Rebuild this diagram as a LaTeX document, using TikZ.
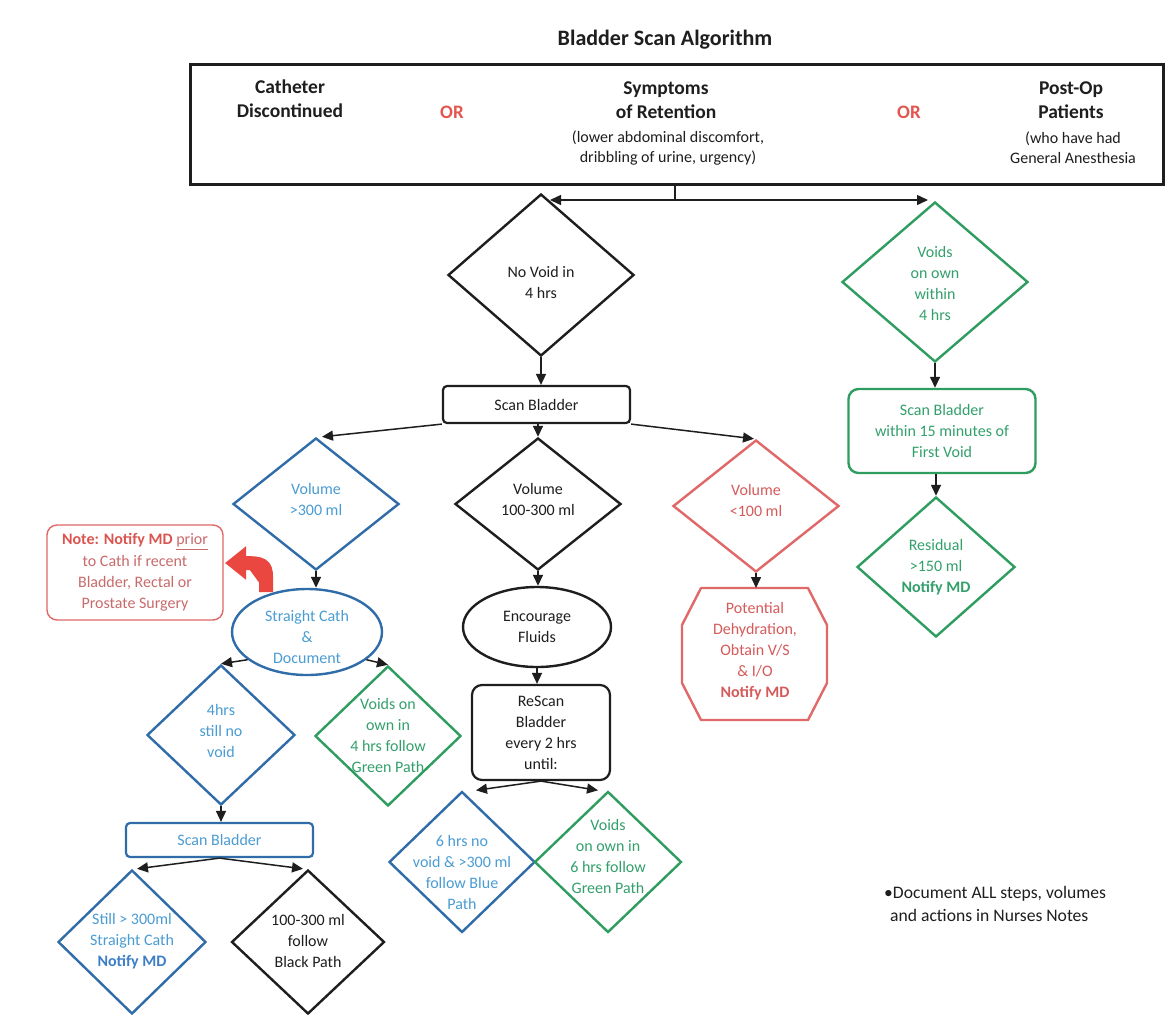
\documentclass[tikz,border=0pt]{standalone}
\usepackage{fontspec}
\setmainfont{Carlito}
\usetikzlibrary{shapes.geometric,arrows.meta,calc}
\definecolor{bstroke}{HTML}{2F6CA8}
\definecolor{btext}{HTML}{4A9CD3}
\definecolor{bbold}{HTML}{3C7FC6}
\definecolor{gstroke}{HTML}{2E9D5F}
\definecolor{gtext}{HTML}{33A06C}
\definecolor{rstroke}{HTML}{E06868}
\definecolor{rtext}{HTML}{D65A5A}
\definecolor{notetext}{HTML}{C96B6B}
\definecolor{notebold}{HTML}{DB5550}
\definecolor{orred}{HTML}{E5554F}
\definecolor{arrred}{HTML}{E9473F}
\definecolor{ink}{HTML}{1E1E1E}
\tikzset{
  dia/.style={diamond, draw, line width=2.4pt, inner sep=0pt},
  oval/.style={ellipse, draw, line width=2.4pt, inner sep=0pt},
  tx/.style={align=center, inner sep=0pt, font=\fontsize{16pt}{21pt}\selectfont},
  boldtop/.style={align=center, inner sep=0pt, text=ink, font=\bfseries\fontsize{19.5pt}{24pt}\selectfont},
  smalltop/.style={align=center, inner sep=0pt, text=ink, font=\fontsize{16pt}{20pt}\selectfont},
  ortext/.style={inner sep=0pt, text=orred, font=\bfseries\fontsize{19pt}{24pt}\selectfont},
  arr/.style={draw=ink, line width=1.5pt, -{Triangle[length=11pt,width=10pt]}},
  blu/.style={draw=bstroke},
  grn/.style={draw=gstroke},
  rd/.style={draw=rstroke},
  blk/.style={draw=ink},
}
\begin{document}
\begin{tikzpicture}[x=1pt,y=-1pt]
\useasboundingbox[fill=white] (0,0) rectangle (1166,1017);

% title and top box
\node[inner sep=0pt, text=ink, font=\bfseries\fontsize{22pt}{26pt}\selectfont] (title) at (665,40) {Bladder Scan Algorithm};
\node[draw=ink, line width=3pt, minimum width=973pt, minimum height=120pt, inner sep=0pt] (top) at (676.5,124) {};
\node[boldtop] (cath) at (290,99) {Catheter\\Discontinued};
\node[ortext] (or1) at (452,112) {OR};
\node[boldtop] (symp) at (666,100) {Symptoms\\of Retention};
\node[smalltop] (sympd) at (668,148) {(lower abdominal discomfort,\\dribbling of urine, urgency)};
\node[ortext] (or2) at (909,112) {OR};
\node[boldtop] (post) at (1071,100) {Post-Op\\Patients};
\node[smalltop] (postd) at (1073,148) {(who have had\\General Anesthesia};

% main column
\node[dia, blk, minimum width=186pt, minimum height=162pt] (nv) at (541,275) {};
\node[tx, text=ink] (nvt) at (541,282) {No Void in\\4 hrs};
\node[draw=ink, line width=2.2pt, rounded corners=4pt, minimum width=187pt, minimum height=37pt, tx, text=ink] (sb) at (536.5,404.5) {Scan Bladder};

\node[dia, blu, minimum width=166pt, minimum height=132pt] (vb) at (316,504) {};
\node[tx, text=btext] (vbt) at (316,499) {Volume\\>300 ml};
\node[dia, blk, minimum width=166pt, minimum height=132pt] (md) at (538,504) {};
\node[tx, text=ink] (mdt) at (538,499) {Volume\\100-300 ml};
\node[dia, rd, minimum width=166pt, minimum height=132pt] (rdd) at (756,506) {};
\node[tx, text=rtext] (rdt) at (756,500) {Volume\\<100 ml};

% left branch
\node[oval, blu, minimum width=150pt, minimum height=86pt] (sc) at (307,632) {};
\node[tx, text=btext] (sct) at (307,637) {Straight Cath\\\&\\Document};
\node[draw=rstroke, line width=1.4pt, rounded corners=10pt, minimum width=176pt, minimum height=95pt, inner sep=0pt, align=center, text=notetext, font=\fontsize{16pt}{21.3pt}\selectfont] (note) at (135,572.5) {\textcolor{notebold}{\bfseries Note: Notify MD} \underline{prior}\\to Cath if recent\\Bladder, Rectal or\\Prostate Surgery};
\coordinate (cstart) at (266,592);
\coordinate (cend) at (225,563);
\draw[draw=arrred, fill=arrred, line width=14pt, -{Triangle[length=21pt,width=32pt]}] (cstart) -- (266,577) .. controls (266,565) and (262,563) .. (cend);

\node[dia, blu, minimum width=148pt, minimum height=140pt] (d4) at (221,735) {};
\node[tx, text=btext] (d4t) at (221,731) {4hrs\\still no\\void};
\node[dia, grn, minimum width=146pt, minimum height=140pt] (gv) at (388,736) {};
\node[tx, text=gtext] (gvt) at (388,735) {Voids on\\own in\\4 hrs follow\\Green Path};
\node[draw=bstroke, line width=2.2pt, rounded corners=4pt, minimum width=187pt, minimum height=34pt, tx, text=btext] (sb2) at (219.5,840) {Scan Bladder};
\node[dia, blu, minimum width=148pt, minimum height=144pt] (d5) at (132,942) {};
\node[tx, text=btext] (d5t) at (132,941) {Still > 300ml\\Straight Cath\\\textcolor{bbold}{\bfseries Notify MD}};
\node[dia, blk, minimum width=153pt, minimum height=144pt] (d6) at (308,942) {};
\node[tx, text=ink] (d6t) at (308,941) {100-300 ml\\follow\\Black Path};

% middle branch
\node[oval, blk, minimum width=148pt, minimum height=80pt] (ef) at (537,627) {};
\node[tx, text=ink] (eft) at (537,627) {Encourage\\Fluids};
\node[draw=ink, line width=2.2pt, rounded corners=10pt, minimum width=138pt, minimum height=95pt, tx, text=ink] (rs) at (541,732.5) {ReScan\\Bladder\\every 2 hrs\\until:};
\node[dia, blu, minimum width=146pt, minimum height=141pt] (d7) at (462,862) {};
\node[tx, text=btext] (d7t) at (462,872) {6 hrs no\\void \& >300 ml\\follow Blue\\Path};
\node[dia, grn, minimum width=147pt, minimum height=141pt] (d8) at (608,862) {};
\node[tx, text=gtext] (d8t) at (608,856) {Voids\\on own in\\6 hrs follow\\Green Path};

% red branch
\coordinate (oct) at (754.5,654);
\coordinate (octtop) at (754.5,588);
\draw[draw=rstroke, line width=2.4pt, line join=round] (oct) ++(-53.5,-66) -- ++(107,0) -- ++(19,37) -- ++(0,58) -- ++(-19,37) -- ++(-107,0) -- ++(-19,-37) -- ++(0,-58) -- cycle;
\node[tx, text=rtext] (octt) at (755,651) {Potential\\Dehydration,\\Obtain V/S\\\& I/O\\{\bfseries Notify MD}};

% right column
\node[dia, grn, minimum width=186pt, minimum height=160pt] (vo) at (935,282) {};
\node[tx, text=gtext] (vot) at (935,283) {Voids\\on own\\within\\4 hrs};
\node[draw=gstroke, line width=2.4pt, rounded corners=10pt, minimum width=187pt, minimum height=84pt, tx, text=gtext] (gbox) at (942,431) {Scan Bladder\\within 15 minutes of\\First Void};
\node[dia, grn, minimum width=158pt, minimum height=140pt] (res) at (936,567) {};
\node[tx, text=gtext] (rest) at (936,567) {Residual\\>150 ml\\{\bfseries Notify MD}};

% footnote
\node[anchor=west, align=left, inner sep=0pt, text=ink, font=\fontsize{17.6pt}{23pt}\selectfont] (foot) at (884,903.5) {\textbullet Document ALL steps, volumes\\\hspace*{6pt}and actions in Nurses Notes};

% connectors
\coordinate (split) at (675,200);
\draw[draw=ink, line width=1.5pt] (top.south -| split) -- (split);
\draw[arr] (split) -- ([xshift=9pt]split -| nv.north);
\draw[arr] (split) -- ([xshift=-7pt]split -| vo.north);
\draw[arr] (nv.south) -- (nv.south |- sb.north);
\draw[arr] (sb.south west) -- ([xshift=6pt]vb.north);
\draw[arr] (sb.south -| md.north) -- (md.north);
\draw[arr] (sb.south east) -- ([xshift=-2pt]rdd.north);
\draw[arr] (vb.south) -- (vb.south |- sc.north);
\draw[arr] (sc.205) -- (d4.north);
\draw[arr] (sc.-25) -- (gv.north);
\draw[arr] (d4.south) -- (d4.south |- sb2.north);
\draw[arr] (sb2.south) -- ([xshift=5pt]d5.north);
\draw[arr] (sb2.south) -- ([xshift=-5pt]d6.north);
\draw[arr] (md.south) -- (md.south |- ef.north);
\draw[arr] (ef.south) -- (ef.south |- rs.north);
\draw[arr] (rs.south) -- ([xshift=14pt]d7.north);
\draw[arr] (rs.south) -- ([xshift=-10pt]d8.north);
\draw[arr] (rdd.south) -- (rdd.south |- octtop);
\draw[arr] (vo.south) -- (vo.south |- gbox.north);
\draw[arr] (gbox.south -| res.north) -- (res.north);
\end{tikzpicture}
\end{document}
